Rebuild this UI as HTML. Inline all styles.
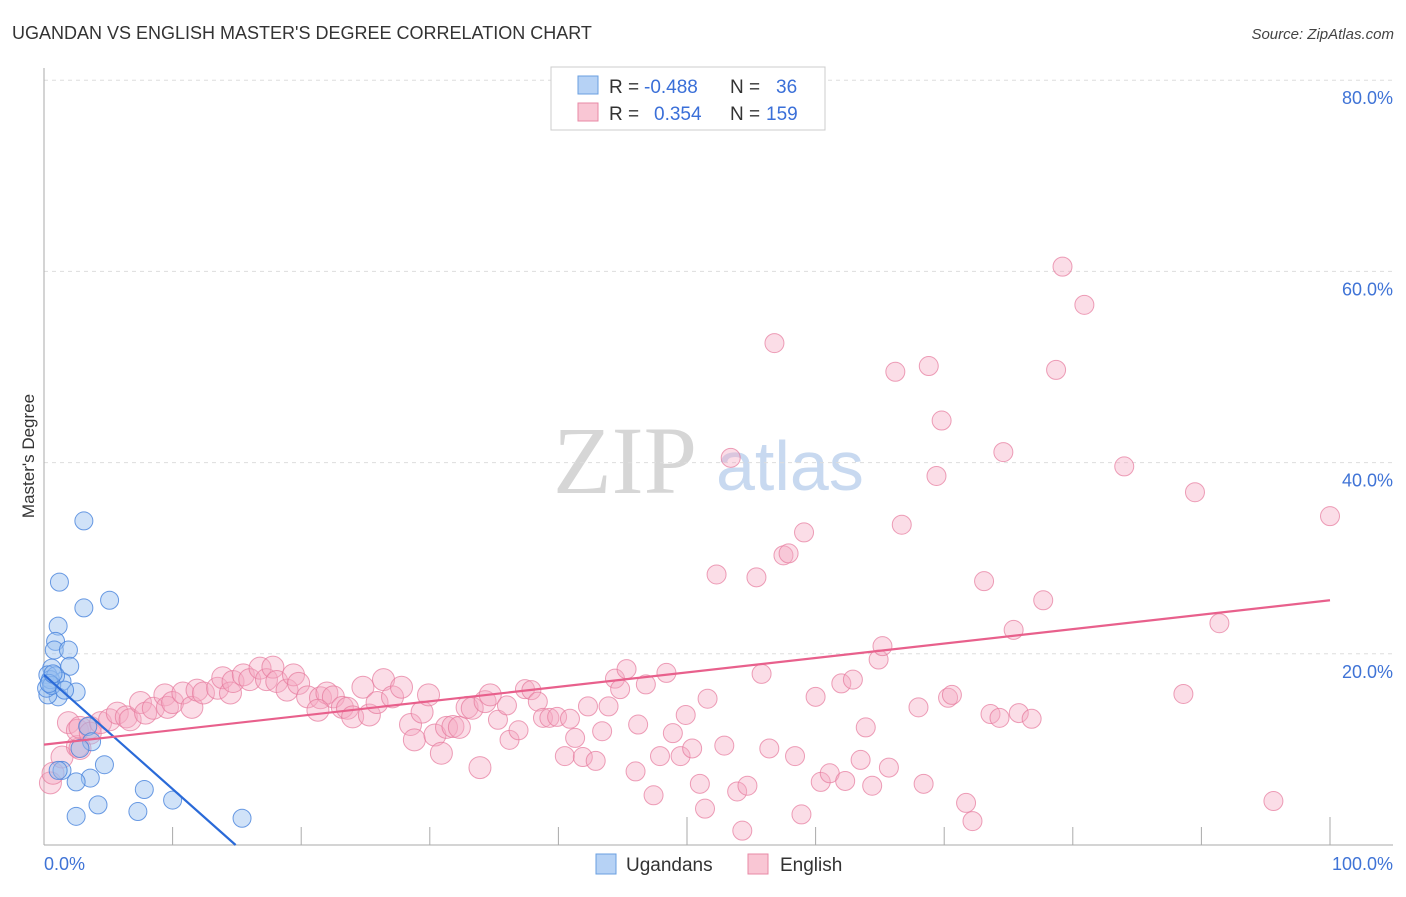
<!DOCTYPE html>
<html><head><meta charset="utf-8">
<style>
body{margin:0;background:#fff;font-family:"Liberation Sans",sans-serif;}
svg text{font-family:"Liberation Sans",sans-serif;}
</style></head><body>
<svg id="chart" width="1406" height="892" xmlns="http://www.w3.org/2000/svg">
<text x="12" y="39" font-size="18" fill="#333">UGANDAN VS ENGLISH MASTER'S DEGREE CORRELATION CHART</text>
<text x="1394" y="39" font-size="15" fill="#444" text-anchor="end" font-style="italic">Source: ZipAtlas.com</text>
<g>
<text x="553" y="493" font-size="96" fill="#d6d6d6" style="font-family:'Liberation Serif',serif">ZIP</text>
<text x="716" y="490" font-size="70" fill="#c8d9f0">atlas</text>
</g>
<text transform="translate(34,456) rotate(-90)" font-size="17" fill="#333" text-anchor="middle">Master's Degree</text>
<g id="grid"></g>
<g id="axes"></g>
<g id="pinkpts"></g>
<g id="bluepts"></g>
<g id="trends"></g>
<g>
<rect x="551" y="67" width="274" height="63" fill="#fff" stroke="#ccc"/>
<rect x="578" y="76" width="20" height="18" fill="#b6d2f5" stroke="#6a9fe0"/>
<text x="609" y="93" font-size="19" fill="#333">R = </text>
<text x="644" y="93" font-size="19" fill="#3a6fd8">-0.488</text>
<text x="730" y="93" font-size="19" fill="#333">N = </text>
<text x="776" y="93" font-size="19" fill="#3a6fd8">36</text>
<rect x="578" y="103" width="20" height="18" fill="#f9c6d4" stroke="#e889a6"/>
<text x="609" y="120" font-size="19" fill="#333">R = </text>
<text x="654" y="120" font-size="19" fill="#3a6fd8">0.354</text>
<text x="730" y="120" font-size="19" fill="#333">N = </text>
<text x="766" y="120" font-size="19" fill="#3a6fd8">159</text>
</g>
<g>
<rect x="596" y="854" width="20" height="20" fill="#b6d2f5" stroke="#6a9fe0"/>
<text x="626" y="871" font-size="19" fill="#333">Ugandans</text>
<rect x="748" y="854" width="20" height="20" fill="#f9c6d4" stroke="#e889a6"/>
<text x="780" y="871" font-size="19" fill="#333">English</text>
</g>
</svg>
<script>
const yTicks=[20,40,60,80];
const yTickLabels=["20.0%","40.0%","60.0%","80.0%"];
const xTicks=[0,10,20,30,40,50,60,70,80,90,100];
const blueX=[3.1,1.2,3.1,5.1,1.1,0.9,0.8,1.9,2.0,0.6,0.3,1.4,2.5,1.1,0.3,0.2,0.5,3.4,3.7,2.8,1.4,4.7,3.6,2.5,7.8,4.2,10.0,2.5,7.3,15.4,0.9,0.6,1.1,0.4,0.7,1.6];
const blueY=[33.9,27.5,24.8,25.6,22.9,21.3,20.4,20.4,18.7,18.5,17.8,17.1,16.0,15.5,15.7,16.4,17.3,12.4,10.8,10.1,7.8,8.4,7.0,6.6,5.8,4.2,4.7,3.0,3.5,2.8,17.7,16.7,7.8,16.9,17.9,16.2];
const pinkX=[0.5,0.7,1.4,2.6,2.8,1.9,2.6,2.8,3.6,3.6,4.4,5.1,5.7,6.4,6.7,7.5,7.9,8.5,9.4,9.6,10.0,10.8,11.5,11.9,12.4,13.5,13.9,14.5,14.7,15.5,16.0,16.8,17.3,17.8,18.1,18.9,19.4,19.8,20.5,21.5,22.0,22.5,23.2,21.3,23.6,24.0,24.8,25.3,25.9,26.4,27.1,27.8,28.5,28.8,29.4,29.9,30.4,30.9,31.3,31.8,32.3,32.9,33.3,33.9,34.3,34.7,35.3,36.0,36.2,36.9,37.4,37.9,38.4,38.8,39.3,39.9,40.5,40.9,41.3,41.9,42.3,42.9,43.4,43.9,44.4,44.8,45.3,46.0,46.2,46.8,47.4,47.9,48.4,48.9,49.5,49.9,50.4,51.0,51.4,51.6,52.3,52.9,53.4,53.9,54.3,54.7,55.4,55.8,56.4,56.8,57.5,57.9,58.4,58.9,59.1,60.0,60.4,61.1,62.0,62.3,62.9,63.5,63.9,64.4,64.9,65.2,65.7,66.2,66.7,68.0,68.4,68.8,69.4,69.8,70.3,70.6,71.7,72.2,73.1,73.6,74.3,74.6,75.4,75.8,76.8,77.7,78.7,79.2,80.9,84.0,88.6,89.5,91.4,95.6,100.0];
const pinkY=[6.5,7.5,9.2,10.3,10.1,12.8,12.0,12.3,12.3,11.7,12.8,13.1,13.8,13.4,13.1,14.9,13.8,14.3,15.7,14.4,14.9,15.9,14.4,16.2,15.9,16.4,17.5,15.9,17.1,17.8,17.3,18.5,17.3,18.6,17.1,16.2,17.8,16.9,15.5,15.4,15.9,15.5,14.4,14.1,14.3,13.4,16.5,13.6,14.9,17.3,15.5,16.5,12.6,11.0,13.9,15.7,11.5,9.6,12.3,12.4,12.3,14.4,14.3,8.1,15.0,15.7,13.1,14.6,11.0,12.0,16.3,16.2,15.0,13.3,13.3,13.4,9.3,13.2,11.2,9.2,14.5,8.8,11.9,14.5,17.4,16.3,18.4,7.7,12.6,16.8,5.2,9.3,18.0,11.7,9.3,13.6,10.1,6.4,3.8,15.3,28.3,10.4,40.5,5.6,1.5,6.2,28.0,17.9,10.1,52.5,30.3,30.5,9.3,3.2,32.7,15.5,6.6,7.5,16.9,6.7,17.3,8.9,12.3,6.2,19.4,20.8,8.1,49.5,33.5,14.4,6.4,50.1,38.6,44.4,15.4,15.7,4.4,2.5,27.6,13.7,13.3,41.1,22.5,13.8,13.2,25.6,49.7,60.5,56.5,39.6,15.8,36.9,23.2,4.6,34.4];
const blueTrend=[[0,17.8],[14.9,0]];
const pinkTrend=[[0,10.5],[100,25.6]];
const X0=44,X1=1330,Y0=845,PY=9.56;
function sx(v){return X0+(X1-X0)*v/100;}
function sy(v){return Y0-PY*v;}
const NS="http://www.w3.org/2000/svg";
function mk(tag,attrs,parent){const e=document.createElementNS(NS,tag);for(const k in attrs)e.setAttribute(k,attrs[k]);parent.appendChild(e);return e;}
const grid=document.getElementById('grid'),axes=document.getElementById('axes');
yTicks.forEach((t,i)=>{
 const l=mk('line',{x1:X0,x2:1393,y1:sy(t),y2:sy(t),stroke:'#ddd','stroke-dasharray':'4,4'},grid);
 
 
 const tx=mk('text',{x:1393,y:sy(t)+24,'font-size':18,fill:'#3f73d6','text-anchor':'end'},axes);
 tx.textContent=yTickLabels[i];
 
 
});
const ax=mk('line',{x1:X0,x2:X0,y1:68,y2:Y0,stroke:'#aaa'},axes);


const bx=mk('line',{x1:X0,x2:1393,y1:Y0,y2:Y0,stroke:'#aaa'},axes);


xTicks.forEach(t=>{
 const l=mk('line',{x1:sx(t),x2:sx(t),y1:Y0,y2:(t%50===0?817:827),stroke:'#aaa'},axes);
 
 
});
const xl0=mk('text',{x:44,y:870,'font-size':18,fill:'#3f73d6'},axes);xl0.textContent='0.0%';


const xl1=mk('text',{x:1393,y:870,'font-size':18,fill:'#3f73d6','text-anchor':'end'},axes);xl1.textContent='100.0%';


const pg=document.getElementById('pinkpts');
pinkX.forEach((x,i)=>{
 const c=mk('circle',{cx:sx(x),cy:sy(pinkY[i]),r:(x<35?11:9.5),fill:'rgba(246,170,195,0.4)',stroke:'rgba(230,120,155,0.7)','stroke-width':1},pg);
 
 
});
const bg=document.getElementById('bluepts');
blueX.forEach((x,i)=>{
 const c=mk('circle',{cx:sx(x),cy:sy(blueY[i]),r:9,fill:'rgba(150,190,240,0.45)',stroke:'rgba(70,130,220,0.8)','stroke-width':1},bg);
 
 
});
const tg=document.getElementById('trends');
const tb=mk('line',{x1:sx(blueTrend[0][0]),y1:sy(blueTrend[0][1]),x2:sx(blueTrend[1][0]),y2:sy(blueTrend[1][1]),stroke:'#2a6ad8','stroke-width':2.2},tg);


const tp=mk('line',{x1:sx(pinkTrend[0][0]),y1:sy(pinkTrend[0][1]),x2:sx(pinkTrend[1][0]),y2:sy(pinkTrend[1][1]),stroke:'#e8608c','stroke-width':2.2},tg);


</script>
</body></html>
